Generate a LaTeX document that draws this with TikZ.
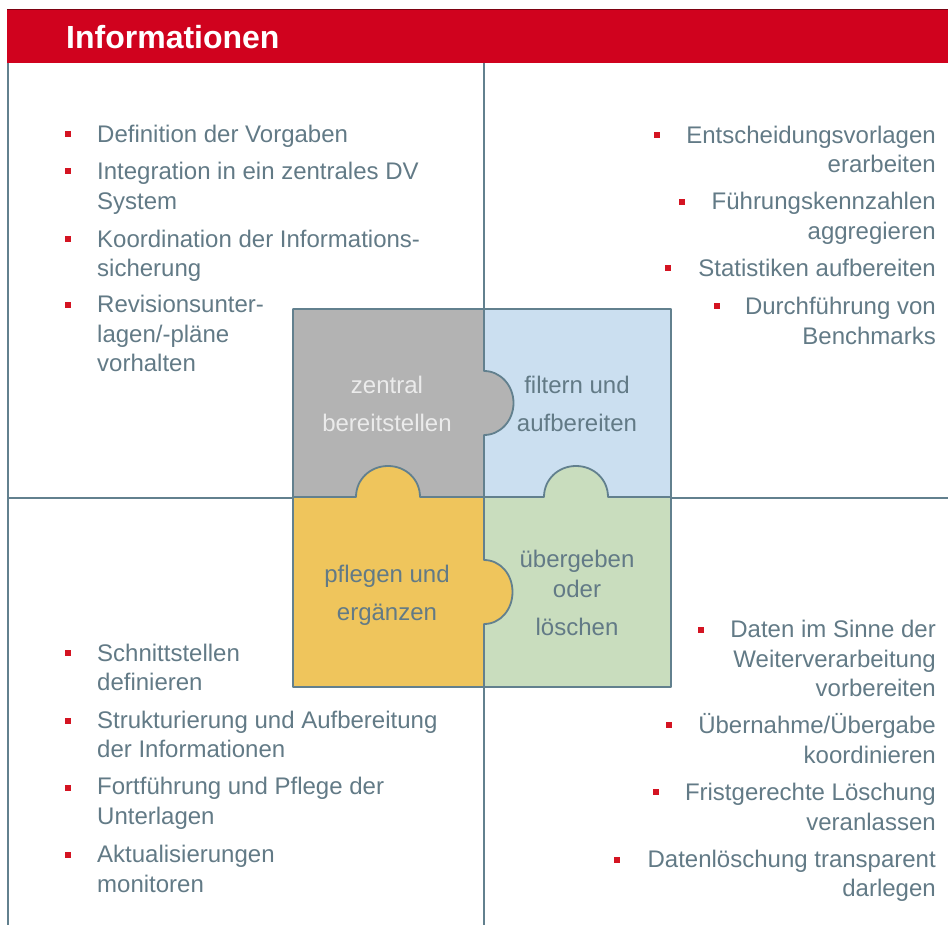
\documentclass[tikz,border=0pt]{standalone}
\usepackage{fontspec}
\setmainfont{Liberation Sans}
\usetikzlibrary{positioning}

\definecolor{headred}{RGB}{208,2,30}
\definecolor{gridline}{RGB}{98,128,142}
\definecolor{txtgray}{RGB}{98,122,134}
\definecolor{piecegray}{RGB}{179,179,179}
\definecolor{pieceblue}{RGB}{203,223,240}
\definecolor{pieceyellow}{RGB}{239,197,92}
\definecolor{piecegreen}{RGB}{201,221,190}
\definecolor{bulletred}{RGB}{212,20,34}

\tikzset{
    listleft/.style={font=\fontsize{24}{29.5}\selectfont, text=txtgray, inner sep=0pt, align=left, anchor=base west},
    listright/.style={font=\fontsize{24}{29.5}\selectfont, text=txtgray, inner sep=0pt, align=right, anchor=base east},
    bullet/.style={fill=bulletred, inner sep=0pt, minimum size=6pt},
    piecetext/.style={font=\fontsize{24}{38}\selectfont, text=txtgray, inner sep=0pt, align=center, anchor=base},
    piece/.style={draw=gridline, line width=1.8pt, line join=round}
}

\begin{document}
\begin{tikzpicture}[x=1pt,y=-1pt]
    \useasboundingbox (0,0) rectangle (948,925);

    % Header bar
    \fill[headred] (7,9) rectangle (948,63);
    \draw[headred!60!black, line width=1pt] (7,9.5) -- (948,9.5);
    \node[font=\fontsize{32}{36}\selectfont\bfseries, text=white, inner sep=0pt, anchor=base west] (title) at (66,49) {Informationen};

    % Quadrant lines
    \draw[gridline, line width=2pt] (7.5,63) -- (7.5,925);
    \draw[gridline, line width=2pt] (483.5,63) -- (483.5,925);
    \draw[gridline, line width=2pt] (7.5,498) -- (948,498);

    % Puzzle pieces
    \filldraw[piece, fill=pieceblue] (484,309) rectangle (671,497);
    \filldraw[piece, fill=piecegray] (293,309) -- (484,309) -- (484,371)
        .. controls (500.3,371) and (513.5,385.3) .. (513.5,403)
        .. controls (513.5,420.7) and (500.3,435) .. (484,435)
        -- (484,497) -- (293,497) -- cycle;
    \filldraw[piece, fill=piecegreen] (484,497) -- (544,497)
        .. controls (544,479.3) and (558.3,466) .. (576,466)
        .. controls (593.7,466) and (608,479.3) .. (608,497)
        -- (671,497) -- (671,687) -- (484,687) -- cycle;
    \filldraw[piece, fill=pieceyellow] (293,497) -- (356,497)
        .. controls (356,479.3) and (370.3,466) .. (388,466)
        .. controls (405.7,466) and (420,479.3) .. (420,497)
        -- (484,497) -- (484,560)
        .. controls (500.3,560) and (512.5,574.3) .. (512.5,592)
        .. controls (512.5,609.7) and (500.3,624) .. (484,624)
        -- (484,687) -- (293,687) -- cycle;

    % Puzzle labels (anchored at the baseline of the last line)
    \node[piecetext, text=white!92!black] (zentral) at (387,431.7) {zentral\\bereitstellen};
    \node[piecetext] (filtern) at (577,431.7) {filtern und\\aufbereiten};
    \node[piecetext] (pflegen) at (387,620) {pflegen und\\ergänzen};
    \node[piecetext] (uebergeben) at (577,635) {übergeben\\[-8pt]oder\\löschen};

    % Top left list
    \node[listleft] (tl1) at (97,142.7) {Definition der Vorgaben};
    \node[listleft] (tl2) at (97,209.5) {Integration in ein zentrales DV\\System};
    \node[listleft] (tl3) at (97,276.7) {Koordination der Informations-\\sicherung};
    \node[listleft] (tl4) at (97,371.7) {Revisionsunter-\\lagen/-pläne\\vorhalten};
    \foreach \y in {142.7,180,247.3,313.3}
        \node[bullet] at (68,\y-8.5) {};

    % Top right list
    \node[listright] (tr1) at (936,172.7) {Entscheidungsvorlagen\\erarbeiten};
    \node[listright] (tr2) at (936,239.3) {Führungskennzahlen\\aggregieren};
    \node[listright] (tr3) at (936,276.7) {Statistiken aufbereiten};
    \node[listright] (tr4) at (936,344.3) {Durchführung von\\Benchmarks};
    \foreach \x/\y in {657.3/143.3,682/210.7,668/276.7,717/315}
        \node[bullet] at (\x,\y-8.5) {};

    % Bottom left list
    \node[listleft] (bl1) at (97,690.7) {Schnittstellen\\definieren};
    \node[listleft] (bl2) at (97,757.7) {Strukturierung und Aufbereitung\\der Informationen};
    \node[listleft] (bl3) at (97,824) {Fortführung und Pflege der\\Unterlagen};
    \node[listleft] (bl4) at (97,892.3) {Aktualisierungen\\monitoren};
    \foreach \y in {661.7,729.3,796,863.3}
        \node[bullet] at (68,\y-8.5) {};

    % Bottom right list
    \node[listright] (br1) at (936,696.7) {Daten im Sinne der\\Weiterverarbeitung\\vorbereiten};
    \node[listright] (br2) at (936,763.3) {Übernahme/Übergabe\\koordinieren};
    \node[listright] (br3) at (936,830) {Fristgerechte Löschung\\veranlassen};
    \node[listright] (br4) at (936,896.7) {Datenlöschung transparent\\darlegen};
    \foreach \x/\y in {700.7/638.3,669/733.3,655.7/800,617.3/868.3}
        \node[bullet] at (\x,\y-8.5) {};
\end{tikzpicture}
\end{document}
